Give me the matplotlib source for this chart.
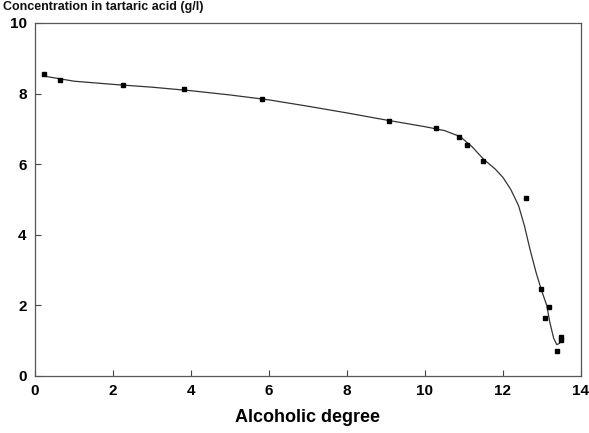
import matplotlib
matplotlib.use('Agg')
import matplotlib.pyplot as plt

# measured points
alc = [0.24, 0.64, 2.25, 3.83, 5.83, 9.08, 10.28, 10.88, 11.08, 11.48,
       12.58, 12.97, 13.18, 13.09, 13.39, 13.49, 13.5]
acid = [8.55, 8.38, 8.25, 8.12, 7.84, 7.23, 7.03, 6.76, 6.55, 6.10,
        5.03, 2.46, 1.96, 1.65, 0.71, 1.09, 1.0]

# smooth fitted curve
curve_x = [0.2, 1.0, 2.0, 3.0, 4.0, 5.0, 6.0, 7.0, 8.0, 9.0, 10.0, 10.5,
           10.9, 11.2, 11.5, 11.8, 12.0, 12.2, 12.4, 12.55, 12.7, 12.85,
           13.0, 13.12, 13.2, 13.3, 13.38, 13.45, 13.5]
curve_y = [8.5, 8.35, 8.26, 8.18, 8.08, 7.96, 7.82, 7.64, 7.45, 7.25, 7.06,
           6.95, 6.78, 6.5, 6.14, 5.86, 5.62, 5.28, 4.82, 4.25, 3.55, 2.92,
           2.38, 2.0, 1.52, 1.06, 0.88, 0.92, 1.1]

plt.rcParams['font.family'] = ['Liberation Sans', 'DejaVu Sans']

fig = plt.figure(figsize=(5.89, 4.33), dpi=100)
ax = fig.add_axes([0.0594, 0.1323, 0.9270, 0.8146])

ax.plot(curve_x, curve_y, color='#333333', lw=0.9)
ax.plot(alc, acid, 's', color='black', ms=2.6)

ax.set_xlim(0, 14)
ax.set_ylim(0, 10)
ax.set_xticks(range(0, 15, 2))
ax.set_yticks(range(0, 11, 2))
ax.tick_params(direction='in', length=4, width=0.8, color='#444444',
               labelsize=11, pad=6)
for lab in ax.get_xticklabels() + ax.get_yticklabels():
    lab.set_fontweight('bold')
for s in ax.spines.values():
    s.set_color('#555555')
    s.set_linewidth(0.9)

ax.set_xlabel('Alcoholic degree', fontsize=13, fontweight='bold', labelpad=8)

# title at the top edge of the scan
fig.text(0.005, 0.998, 'Concentration in tartaric acid (g/l)', fontsize=9,
         fontweight='bold', ha='left', va='top', color='#111111')

fig.savefig('out.png', dpi=100)
